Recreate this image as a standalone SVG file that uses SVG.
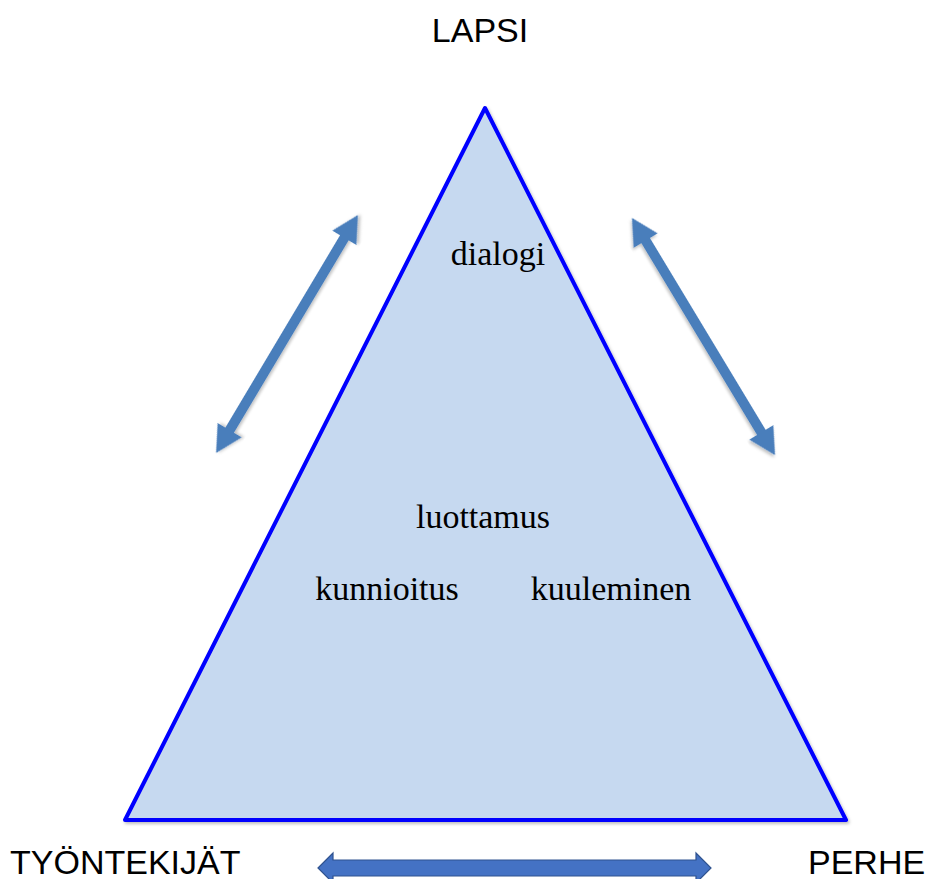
<svg xmlns="http://www.w3.org/2000/svg" width="929" height="879" viewBox="0 0 929 879">
<defs>
<filter id="sh" x="-10%" y="-10%" width="120%" height="120%">
<feDropShadow dx="1.5" dy="2" stdDeviation="1.5" flood-color="#000" flood-opacity="0.25"/>
</filter>
<style>
.sans{font-family:"Liberation Sans",Arial,sans-serif;font-size:34px;fill:#000}
.serif{font-family:"Liberation Serif","Times New Roman",serif;font-size:34px;fill:#000;text-anchor:middle}
.darr{fill:#4A7EBB}
</style>
</defs>
<rect width="929" height="879" fill="#fff"/>
<g id="triangle">
<polygon points="485,108 846,820 125,820" fill="#C6D9F0" stroke="#0000FF" stroke-width="4" stroke-linejoin="round" filter="url(#sh)"/>
<text class="serif" x="498" y="265">dialogi</text>
<text class="serif" x="483" y="528">luottamus</text>
<text class="serif" x="387" y="600">kunnioitus</text>
<text class="serif" x="611" y="600">kuuleminen</text>
</g>
<g id="lapsi"><text class="sans" x="480" y="42" text-anchor="middle">LAPSI</text></g>
<g id="tyontekijat"><text class="sans" x="10" y="874">TYÖNTEKIJÄT</text></g>
<g id="perhe"><text class="sans" x="808" y="874">PERHE</text></g>
<g id="connectors">
<polygon class="darr" filter="url(#sh)" transform="translate(287,334) rotate(-59.2)" points="-138.5,0 -112,-14 -112,-5 112,-5 112,-14 138.5,0 112,14 112,5 -112,5 -112,14"/>
<polygon class="darr" filter="url(#sh)" transform="translate(703.5,336.5) rotate(58.9)" points="-138.5,0 -112,-14 -112,-5 112,-5 112,-14 138.5,0 112,14 112,5 -112,5 -112,14"/>
<polygon fill="#4472C4" stroke="#2F528F" stroke-width="1.2" points="318,868 333,853 333,860 696,860 696,853 711,868 696,883 696,876 333,876 333,883"/>
</g>
</svg>
